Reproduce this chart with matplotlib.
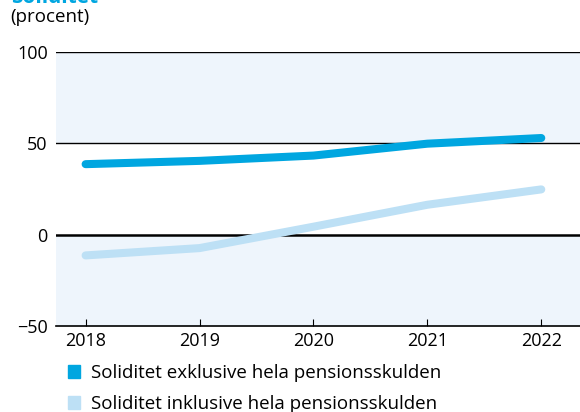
import matplotlib.pyplot as plt
from matplotlib.patches import Patch

plt.rcParams['font.family'] = ['Open Sans', 'DejaVu Sans']

# data (percent)
years = [2018, 2019, 2020, 2021, 2022]
exkl = [38.5, 40.3, 43.2, 49.7, 52.8]
inkl = [-11.4, -7.4, 4.3, 16.3, 24.7]
yticks = [-50, 0, 50, 100]

dark = '#00A6E0'
light = '#BDE0F5'
band = '#EEF5FC'

fig = plt.figure(figsize=(5.8, 4.12), dpi=100)
ax = fig.add_axes([56 / 580, 1 - 326 / 412, 1 - 56 / 580, (326 - 51.7) / 412])

# shaded bands
ax.axhspan(50, 100, color=band, zorder=0, lw=0)
ax.axhspan(-50, 0, color=band, zorder=0, lw=0)
ax.axhline(100, color='black', lw=1.0, zorder=1)
ax.axhline(50, color='black', lw=1.0, zorder=1)
ax.axhline(0, color='black', lw=1.8, zorder=1)

ax.plot(years, inkl, color=light, lw=5.8, solid_capstyle='round', solid_joinstyle='round', zorder=3)
ax.plot(years, exkl, color=dark, lw=5.8, solid_capstyle='round', solid_joinstyle='round', zorder=4)

ax.set_xlim(2017.74, 2022.34)
ax.set_ylim(-50, 100)
ax.set_yticks(yticks)
ax.set_yticklabels(['\u221250', '0', '50', '100'])
ax.set_xticks(years)
ax.set_xticklabels([str(y) for y in years])

for s in ['top', 'right', 'left']:
    ax.spines[s].set_visible(False)
ax.spines['bottom'].set_linewidth(1.2)
ax.tick_params(axis='y', length=0, labelsize=13, pad=6)
ax.tick_params(axis='x', direction='in', length=5, width=0.8, labelsize=13, pad=4)

# title cut off at the top, and unit
fig.text(11 / 580, 1 - 3 / 412, 'Soliditet', color=dark, fontsize=15, fontweight='bold', va='baseline')
fig.text(10 / 580, 1 - 17 / 412, '(procent)', fontsize=13.5, va='center')

handles = [Patch(color=dark), Patch(color=light)]
labels = ['Soliditet exklusive hela pensionsskulden', 'Soliditet inklusive hela pensionsskulden']
fig.legend(handles, labels, loc='upper left', bbox_to_anchor=(68 / 580, 1 - 364 / 412),
           frameon=False, fontsize=13.5, handlelength=0.65, handleheight=0.65,
           handletextpad=0.6, labelspacing=0.7, borderpad=0, borderaxespad=0)

fig.savefig('out.png', dpi=100)
